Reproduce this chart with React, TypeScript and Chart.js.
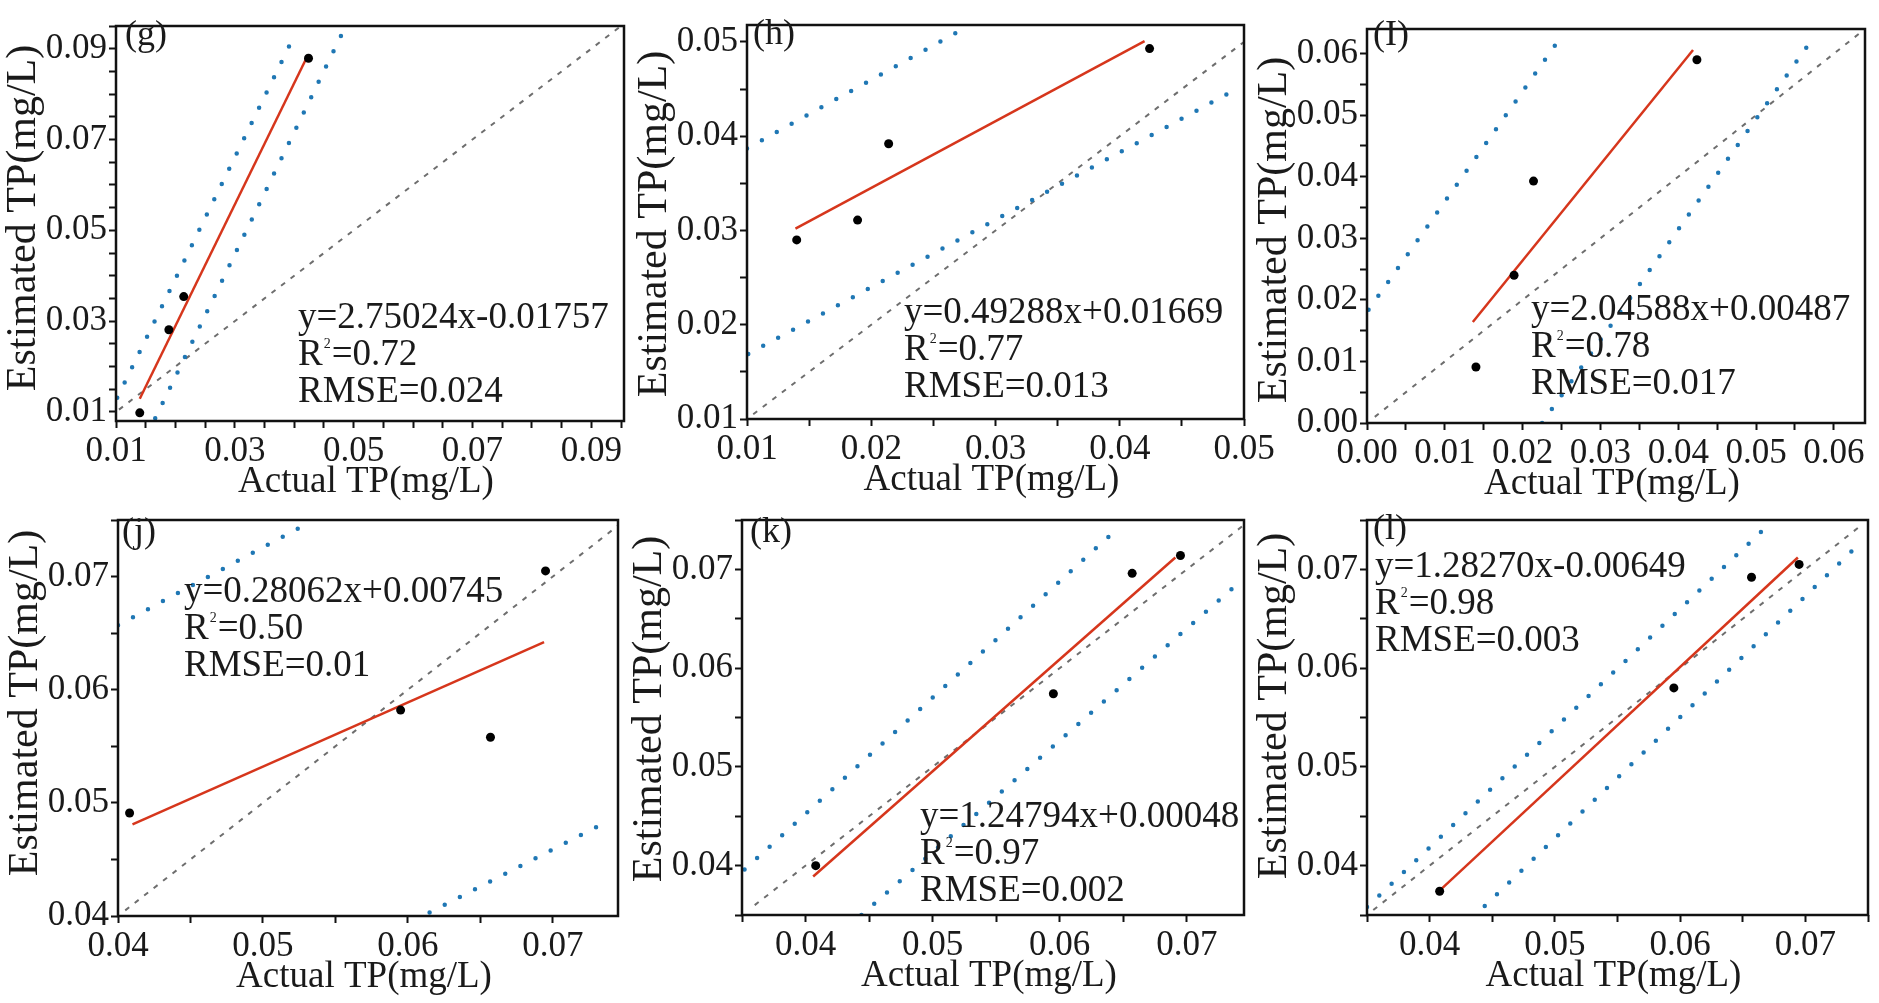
import { useEffect, useRef } from 'react';
import { Chart, registerables } from 'chart.js';

Chart.register(...registerables);

const FONT = '"Liberation Serif", "Times New Roman", serif';
const INK = '#1a1a1a';

// ---------------- data ----------------
// panels (g)(h)(I) share the same actual samples
const actualTP_top = [0.014, 0.0189, 0.0214, 0.0424];
const estTP_g = [0.0098, 0.0281, 0.0354, 0.0879];
const estTP_h = [0.029, 0.0311, 0.0392, 0.0493];
const estTP_I = [0.0091, 0.024, 0.0393, 0.059];
// panels (j)(k)(l) share the same actual samples
const actualTP_bottom = [0.0408, 0.0595, 0.0657, 0.0695];
const estTP_j = [0.0491, 0.0582, 0.0558, 0.0705];
const estTP_k = [0.04, 0.0574, 0.0696, 0.0714];
const estTP_l = [0.0374, 0.058, 0.0692, 0.0705];

// fitted regression line end points
const fitX_g = [0.014, 0.042];
const fitY_g = [0.0129, 0.0878];
const fitX_h = [0.0139, 0.042];
const fitY_h = [0.0302, 0.0501];
const fitX_I = [0.0136, 0.0419];
const fitY_I = [0.0164, 0.0606];
const fitX_j = [0.041, 0.0694];
const fitY_j = [0.0481, 0.0642];
const fitX_k = [0.0406, 0.0691];
const fitY_k = [0.0389, 0.0712];
const fitX_l = [0.0409, 0.0694];
const fitY_l = [0.0376, 0.0712];

// dotted band lines (upper / lower)
const upX_g = [0.0102, 0.0398];
const upY_g = [0.0131, 0.0923];
const loX_g = [0.0166, 0.0486];
const loY_g = [0.0086, 0.0948];
const upX_h = [0.01, 0.0277];
const upY_h = [0.0387, 0.0516];
const loX_h = [0.0101, 0.0491];
const loY_h = [0.0169, 0.0448];
const upX_I = [0.0002, 0.0251];
const upY_I = [0.0184, 0.063];
const loX_I = [0.0225, 0.0573];
const loY_I = [0.0, 0.0625];
const upX_j = [0.04, 0.0525];
const upY_j = [0.0657, 0.0743];
const loX_j = [0.0615, 0.074];
const loY_j = [0.0403, 0.0485];
const upX_k = [0.0352, 0.0646];
const upY_k = [0.0396, 0.0742];
const loX_k = [0.0444, 0.0744];
const loY_k = [0.035, 0.069];
const upX_l = [0.035, 0.0672];
const upY_l = [0.0358, 0.0747];
const loX_l = [0.0444, 0.074];
const loY_l = [0.0359, 0.0722];

// 1:1 reference lines
const oneToOne_g = [0.0105, 0.095];
const oneToOne_h = [0.0105, 0.05];
const oneToOne_I = [0.001, 0.064];
const oneToOne_j = [0.0405, 0.0745];
const oneToOne_k = [0.036, 0.0745];
const oneToOne_l = [0.0355, 0.0745];

// axis ranges
const xRange_g = [0.01, 0.0955];
const yRange_g = [0.008, 0.095];
const xRange_h = [0.01, 0.05];
const yRange_h = [0.01, 0.0518];
const xRange_I = [0, 0.064];
const yRange_I = [0, 0.064];
const xRange_j = [0.04, 0.0745];
const yRange_j = [0.04, 0.075];
const xRange_k = [0.035, 0.0745];
const yRange_k = [0.035, 0.075];
const xRange_l = [0.035, 0.075];
const yRange_l = [0.035, 0.075];

// tick labels
const tickLabels_g = ['0.01', '0.03', '0.05', '0.07', '0.09'];
const tickLabels_h = ['0.01', '0.02', '0.03', '0.04', '0.05'];
const tickLabels_I = ['0.00', '0.01', '0.02', '0.03', '0.04', '0.05', '0.06'];
const tickLabels_jkl = ['0.04', '0.05', '0.06', '0.07'];
const minorStep = 0.005;

// annotation texts
const eq_g = ['y=2.75024x-0.01757', '0.72', '0.024'];
const eq_h = ['y=0.49288x+0.01669', '0.77', '0.013'];
const eq_I = ['y=2.04588x+0.00487', '0.78', '0.017'];
const eq_j = ['y=0.28062x+0.00745', '0.50', '0.01'];
const eq_k = ['y=1.24794x+0.00048', '0.97', '0.002'];
const eq_l = ['y=1.28270x-0.00649', '0.98', '0.003'];

const xTitle = 'Actual TP(mg/L)';
const yTitle = 'Estimated TP(mg/L)';

// ---------------- layout ----------------
const PAD_L = 115;
const PAD_T = 6;
const PAD_R = 40;
const PAD_B = 90;

type Panel = {
  letter: string;
  box: number[]; // left, top, right, bottom in page px
  xRange: number[];
  yRange: number[];
  xLabels: string[];
  yLabels: string[];
  actual: number[];
  est: number[];
  fitX: number[];
  fitY: number[];
  upX: number[];
  upY: number[];
  loX: number[];
  loY: number[];
  one: number[];
  eq: string[];
  eqPos: number[];
  letterPos: number[];
  yTitleY: number;
};

const panels: Panel[] = [
  {
    letter: '(g)', box: [116, 9, 624, 421], xRange: xRange_g, yRange: yRange_g,
    xLabels: tickLabels_g, yLabels: tickLabels_g, actual: actualTP_top, est: estTP_g,
    fitX: fitX_g, fitY: fitY_g, upX: upX_g, upY: upY_g, loX: loX_g, loY: loY_g,
    one: oneToOne_g, eq: eq_g, eqPos: [298, 318], letterPos: [125, 36], yTitleY: 218,
  },
  {
    letter: '(h)', box: [747, 8, 1244, 419], xRange: xRange_h, yRange: yRange_h,
    xLabels: tickLabels_h, yLabels: tickLabels_h, actual: actualTP_top, est: estTP_h,
    fitX: fitX_h, fitY: fitY_h, upX: upX_h, upY: upY_h, loX: loX_h, loY: loY_h,
    one: oneToOne_h, eq: eq_h, eqPos: [904, 313], letterPos: [753, 35], yTitleY: 224,
  },
  {
    letter: '(I)', box: [1367, 12, 1865, 423], xRange: xRange_I, yRange: yRange_I,
    xLabels: tickLabels_I, yLabels: tickLabels_I, actual: actualTP_top, est: estTP_I,
    fitX: fitX_I, fitY: fitY_I, upX: upX_I, upY: upY_I, loX: loX_I, loY: loY_I,
    one: oneToOne_I, eq: eq_I, eqPos: [1531, 310], letterPos: [1373, 36], yTitleY: 230,
  },
  {
    letter: '(j)', box: [118, 503, 618, 916], xRange: xRange_j, yRange: yRange_j,
    xLabels: tickLabels_jkl, yLabels: tickLabels_jkl, actual: actualTP_bottom, est: estTP_j,
    fitX: fitX_j, fitY: fitY_j, upX: upX_j, upY: upY_j, loX: loX_j, loY: loY_j,
    one: oneToOne_j, eq: eq_j, eqPos: [184, 592], letterPos: [122, 533], yTitleY: 703,
  },
  {
    letter: '(k)', box: [742, 503, 1244, 915], xRange: xRange_k, yRange: yRange_k,
    xLabels: tickLabels_jkl, yLabels: tickLabels_jkl, actual: actualTP_bottom, est: estTP_k,
    fitX: fitX_k, fitY: fitY_k, upX: upX_k, upY: upY_k, loX: loX_k, loY: loY_k,
    one: oneToOne_k, eq: eq_k, eqPos: [920, 817], letterPos: [750, 533], yTitleY: 709,
  },
  {
    letter: '(l)', box: [1367, 503, 1868, 915], xRange: xRange_l, yRange: yRange_l,
    xLabels: tickLabels_jkl, yLabels: tickLabels_jkl, actual: actualTP_bottom, est: estTP_l,
    fitX: fitX_l, fitY: fitY_l, upX: upX_l, upY: upY_l, loX: loX_l, loY: loY_l,
    one: oneToOne_l, eq: eq_l, eqPos: [1375, 567], letterPos: [1373, 530], yTitleY: 706,
  },
];

function tickValues(range: number[], labels: string[]): number[] {
  const first = parseFloat(labels[0]);
  let start = first;
  while (start - minorStep >= range[0] - 1e-9) start -= minorStep;
  const out: number[] = [];
  for (let i = 0; i < 100; i++) {
    const v = Math.round((start + i * minorStep) * 1e6) / 1e6;
    if (v > range[1] + 1e-9) break;
    out.push(v);
  }
  return out;
}

function labelFor(v: number, labels: string[]): string {
  const c = v * 100;
  if (Math.abs(c - Math.round(c)) > 1e-6) return '';
  const s = (Math.round(c) / 100).toFixed(2);
  return labels.includes(s) ? s : '';
}

function pts(xs: number[], ys: number[]) {
  return xs.map((x, i) => ({ x, y: ys[i] }));
}

function PanelChart({ p }: { p: Panel }) {
  const ref = useRef<HTMLCanvasElement | null>(null);
  const w = p.box[2] - p.box[0] + PAD_L + PAD_R;
  const h = p.box[3] - p.box[1] + PAD_T + PAD_B;
  const ox = p.box[0] - PAD_L;
  const oy = p.box[1] - PAD_T;

  useEffect(() => {
    const xt = tickValues(p.xRange, p.xLabels);
    const yt = tickValues(p.yRange, p.yLabels);

    const decor = {
      id: 'decor' + p.letter,
      afterDraw(chart: any) {
        const { ctx, chartArea: a } = chart;
        ctx.save();
        ctx.strokeStyle = '#111';
        ctx.lineWidth = 2.5;
        ctx.strokeRect(a.left, a.top, a.right - a.left, a.bottom - a.top);

        ctx.fillStyle = INK;
        ctx.textAlign = 'left';
        ctx.textBaseline = 'middle';
        ctx.font = `36px ${FONT}`;
        ctx.fillText(p.letter, p.letterPos[0] - ox, p.letterPos[1] - oy);

        const ex = p.eqPos[0] - ox;
        const ey = p.eqPos[1] - oy;
        const lh = 37;
        ctx.font = `37px ${FONT}`;
        ctx.fillText(p.eq[0], ex, ey);
        ctx.fillText('R', ex, ey + lh);
        const rw = ctx.measureText('R').width;
        ctx.font = `14px ${FONT}`;
        ctx.fillText('2', ex + rw + 1, ey + lh - 11);
        const sw = ctx.measureText('2').width;
        ctx.font = `37px ${FONT}`;
        ctx.fillText('=' + p.eq[1], ex + rw + sw + 2, ey + lh);
        ctx.fillText('RMSE=' + p.eq[2], ex, ey + 2 * lh);

        ctx.textAlign = 'center';
        ctx.font = `37px ${FONT}`;
        ctx.fillText(xTitle, (a.left + a.right) / 2 - 4, a.bottom + 61);

        ctx.translate(a.left - 92, p.yTitleY - oy);
        ctx.rotate(-Math.PI / 2);
        ctx.font = `42px ${FONT}`;
        ctx.fillText(yTitle, 0, 0);
        ctx.restore();
      },
    };

    const tickFont = { family: FONT, size: 35 };
    const chart = new Chart(ref.current as HTMLCanvasElement, {
      type: 'scatter',
      data: {
        datasets: [
          {
            label: 'samples',
            data: pts(p.actual, p.est),
            pointRadius: 4.5,
            pointBackgroundColor: '#000',
            pointBorderColor: '#000',
            pointBorderWidth: 0,
            showLine: false,
          },
          {
            label: 'fit',
            data: pts(p.fitX, p.fitY),
            showLine: true,
            borderColor: '#d6361c',
            borderWidth: 2.5,
            pointRadius: 0,
          },
          {
            label: 'upper',
            data: pts(p.upX, p.upY),
            showLine: true,
            borderColor: '#1f77b4',
            borderWidth: 4.5,
            borderDash: [0, 17],
            borderCapStyle: 'round',
            pointRadius: 0,
          },
          {
            label: 'lower',
            data: pts(p.loX, p.loY),
            showLine: true,
            borderColor: '#1f77b4',
            borderWidth: 4.5,
            borderDash: [0, 17],
            borderCapStyle: 'round',
            pointRadius: 0,
          },
          {
            label: '1:1',
            data: pts(p.one, p.one),
            showLine: true,
            borderColor: '#6e6e6e',
            borderWidth: 2,
            borderDash: [5, 7],
            pointRadius: 0,
          },
        ],
      } as any,
      options: {
        animation: false,
        responsive: false,
        devicePixelRatio: 1,
        events: [],
        layout: { padding: { top: PAD_T, right: PAD_R, left: 0, bottom: 0 } },
        plugins: { legend: { display: false }, tooltip: { enabled: false }, title: { display: false } },
        scales: {
          x: {
            type: 'linear',
            min: p.xRange[0],
            max: p.xRange[1],
            afterBuildTicks: (s: any) => { s.ticks = xt.map((v) => ({ value: v })); },
            afterFit: (s: any) => { s.height = PAD_B; },
            ticks: {
              autoSkip: false, maxRotation: 0, minRotation: 0, padding: 3,
              font: tickFont, color: INK,
              callback: (v: any) => labelFor(Number(v), p.xLabels),
            },
            grid: { display: true, drawOnChartArea: false, drawTicks: true, tickLength: 7, tickWidth: 2, tickColor: '#111' },
            border: { display: false },
          },
          y: {
            type: 'linear',
            min: p.yRange[0],
            max: p.yRange[1],
            afterBuildTicks: (s: any) => { s.ticks = yt.map((v) => ({ value: v })); },
            afterFit: (s: any) => { s.width = PAD_L; },
            ticks: {
              autoSkip: false, padding: 2,
              font: tickFont, color: INK,
              callback: (v: any) => labelFor(Number(v), p.yLabels),
            },
            grid: { display: true, drawOnChartArea: false, drawTicks: true, tickLength: 7, tickWidth: 2, tickColor: '#111' },
            border: { display: false },
          },
        },
      } as any,
      plugins: [decor],
    });
    return () => chart.destroy();
  }, []);

  return (
    <canvas
      ref={ref}
      width={w}
      height={h}
      style={{ position: 'absolute', left: ox, top: oy, width: w, height: h }}
    />
  );
}

export default function App() {
  return (
    <div
      style={{
        position: 'absolute', left: 0, top: 0, width: 1879, height: 1003,
        overflow: 'hidden', background: '#ffffff',
      }}
    >
      {panels.map((p) => (
        <PanelChart key={p.letter} p={p} />
      ))}
    </div>
  );
}
